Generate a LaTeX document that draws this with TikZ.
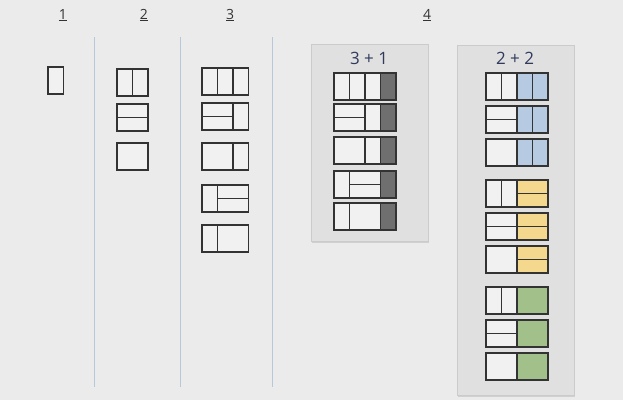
\documentclass[tikz,border=0pt]{standalone}
\usepackage{fontspec}
\setmainfont{Open Sans}
\usetikzlibrary{positioning,shadows}

\definecolor{bgc}{HTML}{EBEBEB}
\definecolor{panelc}{HTML}{E0E0E0}
\definecolor{panelb}{HTML}{CBCBCB}
\definecolor{sepc}{HTML}{B7C8DA}
\definecolor{cellc}{HTML}{F1F1F1}
\definecolor{linec}{HTML}{333333}
\definecolor{darkc}{HTML}{6F6F6F}
\definecolor{bluec}{HTML}{B6CBE2}
\definecolor{yelc}{HTML}{F4D88E}
\definecolor{grnc}{HTML}{A2C08A}
\definecolor{ttlc}{HTML}{303A5C}

\begin{document}
\begin{tikzpicture}[x=1pt,y=-1pt,
    tile/.style={draw=linec,line width=1.1pt,inner sep=0pt,outer sep=0pt,anchor=north west},
    vt/.style={tile,minimum width=15.5pt,minimum height=27pt},
    ht/.style={tile,minimum width=31pt,minimum height=13.5pt},
    sq/.style={tile,minimum width=31pt,minimum height=27pt},
    panel/.style={fill=panelc,draw=panelb,line width=0.6pt,anchor=north west,inner sep=0pt,
        drop shadow={opacity=0.25,shadow xshift=1pt,shadow yshift=-1.5pt}},
    hdr/.style={font=\fontsize{14}{16}\selectfont,text=black!80},
    ttl/.style={font=\fontsize{17}{19}\selectfont,text=ttlc},
    sep/.style={draw=sepc,line width=0.9pt},
    pics/sv/.default=cellc, pics/dv/.default=cellc, pics/dh/.default=cellc, pics/ds/.default=cellc,
    pics/sv/.style={code={\node[vt,fill=#1] (-a) at (0,0) {}; \coordinate (-ne) at (15.5,0);}},
    pics/dv/.style={code={\node[vt,fill=#1] (-a) at (0,0) {}; \node[vt,fill=#1] (-b) at (-a.north east) {}; \coordinate (-ne) at (31,0);}},
    pics/dh/.style={code={\node[ht,fill=#1] (-a) at (0,0) {}; \node[ht,fill=#1] (-b) at (-a.south west) {}; \coordinate (-ne) at (31,0);}},
    pics/ds/.style={code={\node[sq,fill=#1] (-a) at (0,0) {}; \coordinate (-ne) at (31,0);}}]

    \fill[bgc] (0,0) rectangle (623,400);
    \useasboundingbox (0,0) rectangle (623,400);

    % headers
    \node[hdr] (h1) at (63,15) {\underline{1}};
    \node[hdr] (h2) at (144,15) {\underline{2}};
    \node[hdr] (h3) at (230,15) {\underline{3}};
    \node[hdr] (h4) at (427,15) {\underline{4}};

    \foreach \x in {94,180,272}
        \draw[sep] (\x,37) -- (\x,387);

    % 1 and 2
    \pic (one) at (48,67) {sv};
    \pic (twoa) at (117,69) {dv};
    \pic (twob) at (117,104) {dh};
    \pic (twoc) at (117,143) {ds};

    % 3
    \foreach \y/\p/\q [count=\i] in {68/sv/dv,103/dh/sv,143/ds/sv,185/sv/dh,225/sv/ds}{
        \pic (tl\i) at (202,\y) {\p};
        \pic (tr\i) at (tl\i-ne) {\q};
    }

    % 4 = 3 + 1
    \node[panel,minimum width=117pt,minimum height=197pt] (p31) at (311,44) {};
    \node[ttl] (t31) at (369,58) {3 + 1};
    \foreach \y/\p/\q [count=\i] in {73/sv/dv,104/dh/sv,137/ds/sv,171/sv/dh,203/sv/ds}{
        \pic (ql\i) at (334,\y) {\p};
        \pic (qm\i) at (ql\i-ne) {\q};
        \pic (qr\i) at (qm\i-ne) {sv=darkc};
    }

    % 4 = 2 + 2
    \node[panel,minimum width=117pt,minimum height=350pt] (p22) at (457,45) {};
    \node[ttl] (t22) at (515,58) {2 + 2};
    \foreach \r/\c [count=\g from 0] in {dv/bluec,dh/yelc,ds/grnc}
        \foreach \p [count=\j from 0] in {dv,dh,ds}{
            \pic (fl\g\j) at (486,73+107*\g+33*\j) {\p};
            \pic (fr\g\j) at (fl\g\j-ne) {\r=\c};
        }
\end{tikzpicture}
\end{document}
